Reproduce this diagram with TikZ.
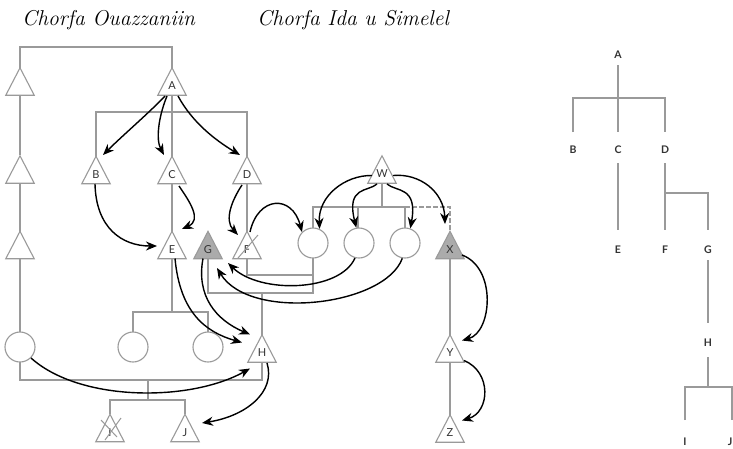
\documentclass[tikz,border=0pt]{standalone}
\usepackage{fontspec}
\newfontfamily\lettf{Lato}
\usetikzlibrary{calc,arrows.meta}
\definecolor{kin}{HTML}{9A9A9A}
\definecolor{shade}{HTML}{ABABAB}
\tikzset{
  kinline/.style={draw=kin, line width=1.1pt},
  dashkin/.style={draw=kin, line width=1.1pt, dashed, dash pattern=on 5pt off 2pt},
  trinode/.style={minimum width=28pt, minimum height=27pt, inner sep=0pt, draw=none},
  letter/.style={font=\lettf\fontsize{11}{11}\selectfont, text=black!80, inner sep=0pt},
  circnode/.style={circle, draw=kin, line width=1.1pt, minimum size=30pt, inner sep=0pt, fill=white},
  arr/.style={draw=black, line width=1.4pt, -{Stealth[length=11pt,width=9pt,inset=3.5pt]}},
  title/.style={font=\itshape\fontsize{21.5}{24}\selectfont, inner sep=0pt, anchor=base west},
  rlabel/.style={font=\lettf\bfseries\fontsize{10.5}{10.5}\selectfont, inner sep=0pt, text=black!80},
  strike/.style={draw=kin, line width=1pt},
}
\newcommand\Tri[4][white]{%
  \node[trinode] (#2) at (#3) {};
  \path[kinline, fill=#1] (#2.south west) -- (#2.north) -- (#2.south east) -- cycle;
  \node[letter] (#2-l) at ($(#2)+(0,4.5)$) {#4};
}
\begin{document}
\begin{tikzpicture}[x=1pt, y=-1pt]
\path[use as bounding box, fill=white] (0,0) rectangle (733,448);

% titles
\node[title] (t1) at (22,25) {Chorfa Ouazzaniin};
\node[title] (t2) at (257,25) {Chorfa Ida u Simelel};

% ---------- kinship lines ----------
\draw[kinline] (20,68) -- (20,47) -- (172,47) -- (172,68);
\draw[kinline] (20,95) -- (20,155);
\draw[kinline] (20,183) -- (20,232);
\draw[kinline] (20,258) -- (20,332);
\draw[kinline] (20,362) -- (20,380) -- (262,380) -- (262,362);
\draw[kinline] (172,95) -- (172,157);
\draw[kinline] (96,157) -- (96,112) -- (247,112) -- (247,157);
\draw[kinline] (172,183) -- (172,232);
\draw[kinline] (247,183) -- (247,232);
\draw[kinline] (172,258) -- (172,312);
\draw[kinline] (133,332) -- (133,312) -- (208,312) -- (208,332);
\draw[kinline] (247,258) -- (247,275) -- (313,275);
\draw[kinline] (313,258) -- (313,293) -- (208,293) -- (208,258);
\draw[kinline] (262,293) -- (262,335);
\draw[kinline] (148,380) -- (148,400);
\draw[kinline] (110,414) -- (110,400) -- (185,400) -- (185,414);
\draw[kinline] (382,183) -- (382,207);
\draw[kinline] (313,228) -- (313,207) -- (405,207) -- (405,228);
\draw[kinline] (358,207) -- (358,228);
\draw[dashkin] (405,207) -- (450,207) -- (450,232);
\draw[kinline] (450,258) -- (450,335);
\draw[kinline] (450,362) -- (450,415);

% ---------- triangles ----------
\Tri{L1}{20,81.5}{}
\Tri{L2}{20,169.5}{}
\Tri{L3}{20,245}{}
\Tri{A}{172,81.5}{A}
\Tri{B}{96,170}{B}
\Tri{C}{172,170}{C}
\Tri{D}{247,170}{D}
\Tri{E}{172,245}{E}
\Tri[shade]{G}{208,245}{G}
\Tri{F}{247,245}{F}
\Tri{W}{382,169.5}{W}
\Tri[shade]{X}{450,245}{X}
\Tri{H}{262,348.5}{H}
\Tri{Y}{450,348.5}{Y}
\Tri{I}{110,428}{I}
\Tri{J}{185,428}{J}
\Tri{Z}{450,428.5}{Z}

% strike-outs
\draw[strike] (258,235) -- (238,258);
\draw[strike] (101,420) -- (117,437);
\draw[strike] (121,418) -- (105,440);

% ---------- circles ----------
\node[circnode] (LC) at (20,347) {};
\node[circnode] (c4) at (133,347) {};
\node[circnode] (c5) at (208,347) {};
\node[circnode] (c1) at (313,243) {};
\node[circnode] (c2) at (359,243) {};
\node[circnode] (c3) at (405,243) {};

% ---------- arrows ----------
\draw[arr] ($(A)+(-7,14.5)$) .. controls (150,112) and (122,136) .. ($(B)+(7,-15)$);
\draw[arr] ($(A)+(-5,14.5)$) .. controls (158,118) and (156,140) .. ($(C)+(-8,-15)$);
\draw[arr] ($(A)+(6,14.5)$) .. controls (192,122) and (215,140) .. ($(D)+(-7,-15)$);
\draw[arr] ($(B)+(-1,14)$) .. controls (96,228) and (122,246) .. ($(E)+(-15,1)$);
\draw[arr] ($(C)+(7,16)$) .. controls (190,202) and (202,220) .. ($(E)+(10,-16)$);
\draw[arr] ($(D)+(-5,15)$) .. controls (232,200) and (224,220) .. ($(F)+(-9,-10)$);
\draw[arr] ($(F)+(3,-13)$) .. controls (258,196) and (292,194) .. (c1.135);
\draw[arr] ($(W)+(-10,6)$) .. controls (345,175) and (318,196) .. (c1.65);
\draw[arr] ($(W)+(-5,14.5)$) .. controls (368,192) and (346,186) .. (c2.100);
\draw[arr] ($(W)+(5,14.5)$) .. controls (396,192) and (418,186) .. (c3.70);
\draw[arr] ($(W)+(11,6)$) .. controls (420,173) and (444,192) .. ($(X)+(-5,-21)$);
\draw[arr] (c2.255) .. controls (340,292) and (260,294) .. ($(F)+(-19,18)$);
\draw[arr] (c3.260) .. controls (385,306) and (250,322) .. ($(G)+(9,23)$);
\draw[arr] ($(E)+(3,13.5)$) .. controls (180,312) and (205,332) .. ($(H)+(-20,-6)$);
\draw[arr] ($(G)+(-5,13.5)$) .. controls (196,296) and (216,320) .. ($(H)+(-12,-14)$);
\draw[arr] (LC.-45) .. controls (80,402) and (190,402) .. ($(H)+(-12,20)$);
\draw[arr] ($(H)+(5,14.5)$) .. controls (276,392) and (246,416) .. ($(J)+(17,-5)$);
\draw[arr] ($(X)+(12,10)$) .. controls (497,268) and (492,332) .. ($(Y)+(12,-8)$);
\draw[arr] ($(Y)+(14,12)$) .. controls (492,372) and (490,412) .. ($(Z)+(12,-8)$);

% ---------- right diagram ----------
\node[rlabel] (rA) at (618,55) {A};
\node[rlabel] (rB) at (573,150) {B};
\node[rlabel] (rC) at (618,150) {C};
\node[rlabel] (rD) at (665,150) {D};
\node[rlabel] (rE) at (618,250) {E};
\node[rlabel] (rF) at (665,250) {F};
\node[rlabel] (rG) at (708,250) {G};
\node[rlabel] (rH) at (708,343) {H};
\node[rlabel] (rI) at (685,442) {I};
\node[rlabel] (rJ) at (730,442) {J};
\draw[kinline] (618,65) -- (618,132);
\draw[kinline] (573,132) -- (573,98) -- (665,98) -- (665,132);
\draw[kinline] (618,163) -- (618,230);
\draw[kinline] (665,163) -- (665,230);
\draw[kinline] (665,193) -- (708,193) -- (708,230);
\draw[kinline] (708,260) -- (708,323);
\draw[kinline] (708,357) -- (708,387);
\draw[kinline] (685,420) -- (685,387) -- (732,387) -- (732,420);
\end{tikzpicture}
\end{document}
